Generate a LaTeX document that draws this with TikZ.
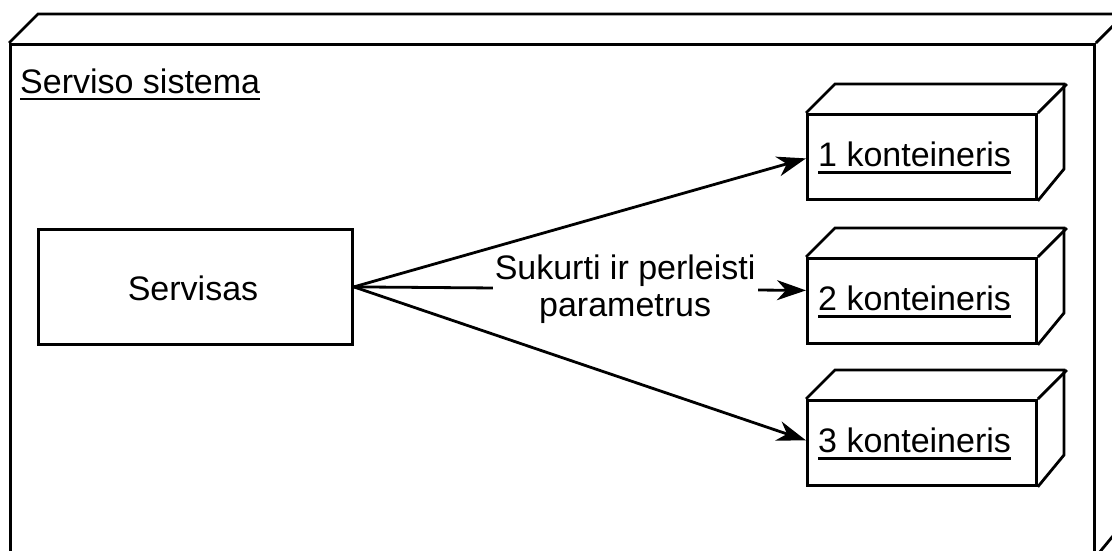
\documentclass[tikz,border=0pt]{standalone}
\usepackage{fontspec}
\setmainfont{Liberation Sans}
\usetikzlibrary{arrows.meta}
\tikzset{
  ln/.style={line width=2.8pt, line join=miter},
  face/.style={ln, draw, fill=white, rectangle, inner sep=0pt, anchor=north west},
  txt/.style={inner sep=0pt, font=\fontsize{34}{37}\selectfont},
  arr/.style={ln, -{Stealth[length=29pt, width=20pt, inset=9pt]}},
  lbl/.style={fill=white, inner xsep=2pt, inner ysep=5pt, align=center, font=\fontsize{34}{37}\selectfont},
  uline/.style={line width=2.6pt}
}
\begin{document}
\begin{tikzpicture}[x=1pt,y=-1pt]
\useasboundingbox (0,0) rectangle (1112,551);
\fill[white] (0,0) rectangle (1112,551);
\begin{scope}
\clip (0,0) rectangle (1112,551);
% big system cube
\node[face, minimum width=1084pt, minimum height=511pt] (sys) at (9,43) {};
\draw[ln] (sys.north west) -- ++(29,-29) -- ++(1084,0) -- ++(0,511) -- (sys.south east);
\draw[ln] (sys.north east) -- ++(29,-29);
\end{scope}
\node[txt, anchor=base west] (tsys) at (20,93) {Serviso sistema};
\draw[uline] ([yshift=-6pt]tsys.base west) -- ([yshift=-6pt]tsys.base east);

% service box
\node[face, minimum width=314pt, minimum height=115pt] (srv) at (37,228) {};
\node[txt, anchor=base] (tsrv) at (193,300) {Servisas};

% container cubes
\foreach \n/\y in {1/113, 2/257, 3/399}{
  \node[face, minimum width=229pt, minimum height=85pt] (k\n) at (806,\y) {};
  \draw[ln] (k\n.north west) -- ++(29,-29) -- ++(229,0) -- ++(0,85) -- (k\n.south east);
  \draw[ln] (k\n.north east) -- ++(29,-29);
}
\node[txt, anchor=base west] (t1) at (818,166.5) {1 konteineris};
\node[txt, anchor=base west] (t2) at (818,310.5) {2 konteineris};
\node[txt, anchor=base west] (t3) at (818,452.5) {3 konteineris};
\foreach \n in {1,2,3}{
  \draw[uline] ([yshift=-6pt]t\n.base west) -- ([yshift=-6pt]t\n.base east);
}

% connectors
\draw[arr] (srv.east) -- ([yshift=-1.5pt]k1.west);
\draw[arr] (srv.east) -- ([yshift=2.5pt]k3.west);
\draw[arr] (srv.east) -- node[lbl, pos=0.6] (lab) {Sukurti ir perleisti\\parametrus} ([yshift=10.5pt]k2.west);
\end{tikzpicture}
\end{document}
